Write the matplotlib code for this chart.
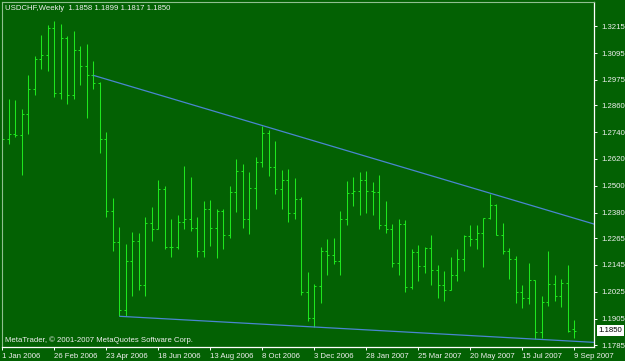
import matplotlib
matplotlib.use("Agg")
import matplotlib.pyplot as plt

# ---------------- data ----------------
symbol_title = "USDCHF,Weekly  1.1858 1.1899 1.1817 1.1850"
copyright_text = "MetaTrader, \u00a9 2001-2007 MetaQuotes Software Corp."

opens = [1.2815, 1.2710, 1.2732, 1.2728, 1.2822, 1.2935, 1.3070, 1.3088, 1.3208, 1.2917,
         1.3163, 1.2905, 1.3107, 1.3037, 1.2998, 1.2962, 1.2710, 1.2387, 1.2248, 1.1945,
         1.2162, 1.2252, 1.2057, 1.2335, 1.2308, 1.2485, 1.2225, 1.2225, 1.2339, 1.2353,
         1.2312, 1.2207, 1.2395, 1.2312, 1.2387, 1.2279, 1.2473, 1.2567, 1.2353, 1.2492,
         1.2608, 1.2735, 1.2585, 1.2485, 1.2527, 1.2380, 1.2440, 1.2026, 1.1906, 1.2050,
         1.2206, 1.2188, 1.2162, 1.2353, 1.2467, 1.2477, 1.2527, 1.2477, 1.2470, 1.2323,
         1.2305, 1.2152, 1.2327, 1.2047, 1.2203, 1.2140, 1.2219, 1.2122, 1.2057, 1.2035,
         1.2099, 1.2173, 1.2275, 1.2263, 1.2290, 1.2354, 1.2414, 1.2279, 1.2206, 1.2173,
         1.2026, 1.1996, 1.2077, 1.1843, 1.1978, 1.2059, 1.2008, 1.2065, 1.1858]
highs = [1.3157, 1.2887, 1.2884, 1.2845, 1.2995, 1.3082, 1.3175, 1.3220, 1.3238, 1.3227,
         1.3172, 1.3193, 1.3125, 1.3134, 1.3058, 1.2965, 1.2743, 1.2446, 1.2315, 1.2237,
         1.2293, 1.2287, 1.2360, 1.2405, 1.2527, 1.2500, 1.2353, 1.2371, 1.2590, 1.2540,
         1.2360, 1.2431, 1.2437, 1.2395, 1.2398, 1.2500, 1.2620, 1.2597, 1.2563, 1.2630,
         1.2770, 1.2750, 1.2702, 1.2570, 1.2575, 1.2534, 1.2450, 1.2113, 1.2060, 1.2225,
         1.2263, 1.2267, 1.2387, 1.2522, 1.2540, 1.2563, 1.2567, 1.2515, 1.2548, 1.2432,
         1.2327, 1.2353, 1.2347, 1.2215, 1.2233, 1.2225, 1.2278, 1.2147, 1.2117, 1.2182,
         1.2215, 1.2278, 1.2323, 1.2323, 1.2357, 1.2462, 1.2417, 1.2332, 1.2221, 1.2185,
         1.2057, 1.2155, 1.2077, 1.2005, 1.2207, 1.2102, 1.2080, 1.2147, 1.1899]
lows = [1.2668, 1.2686, 1.2717, 1.2548, 1.2732, 1.2908, 1.3025, 1.3013, 1.2897, 1.2890,
        1.2867, 1.2887, 1.2950, 1.2803, 1.2932, 1.2645, 1.2362, 1.2206, 1.1915, 1.1915,
        1.2008, 1.2035, 1.2008, 1.2252, 1.2305, 1.2215, 1.2182, 1.2215, 1.2305, 1.2297,
        1.2182, 1.2182, 1.2230, 1.2176, 1.2218, 1.2266, 1.2383, 1.2309, 1.2285, 1.2398,
        1.2582, 1.2542, 1.2462, 1.2395, 1.2338, 1.2353, 1.2012, 1.1892, 1.1867, 1.1975,
        1.2102, 1.2150, 1.2101, 1.2323, 1.2410, 1.2368, 1.2377, 1.2369, 1.2308, 1.2287,
        1.2137, 1.2098, 1.2023, 1.2038, 1.2072, 1.2110, 1.2057, 1.1997, 1.1982, 1.2032,
        1.2072, 1.2120, 1.2230, 1.2215, 1.2137, 1.2350, 1.2278, 1.2192, 1.2083, 1.1975,
        1.1952, 1.1972, 1.1813, 1.1817, 1.1963, 1.1982, 1.1957, 1.1843, 1.1817]
closes = [1.2710, 1.2732, 1.2728, 1.2822, 1.2935, 1.3070, 1.3088, 1.3208, 1.2917, 1.3163,
          1.2905, 1.3107, 1.3037, 1.2998, 1.2962, 1.2710, 1.2387, 1.2248, 1.1945, 1.2162,
          1.2252, 1.2057, 1.2335, 1.2308, 1.2485, 1.2225, 1.2225, 1.2339, 1.2353, 1.2312,
          1.2207, 1.2395, 1.2312, 1.2387, 1.2279, 1.2473, 1.2567, 1.2353, 1.2492, 1.2608,
          1.2735, 1.2585, 1.2485, 1.2527, 1.2380, 1.2440, 1.2026, 1.1906, 1.2050, 1.2206,
          1.2188, 1.2162, 1.2353, 1.2467, 1.2477, 1.2527, 1.2477, 1.2470, 1.2323, 1.2305,
          1.2152, 1.2327, 1.2047, 1.2203, 1.2140, 1.2219, 1.2122, 1.2057, 1.2035, 1.2099,
          1.2173, 1.2275, 1.2263, 1.2290, 1.2354, 1.2414, 1.2279, 1.2206, 1.2173, 1.2026,
          1.1996, 1.2077, 1.1843, 1.1978, 1.2059, 1.2008, 1.2065, 1.1847, 1.1850]

x_tick_labels = ["1 Jan 2006", "26 Feb 2006", "23 Apr 2006", "18 Jun 2006", "13 Aug 2006",
                 "8 Oct 2006", "3 Dec 2006", "28 Jan 2007", "25 Mar 2007", "20 May 2007",
                 "15 Jul 2007", "9 Sep 2007"]
weeks_per_label = 8

y_tick_values = [1.3215, 1.3095, 1.2975, 1.2860, 1.2740, 1.2620, 1.2500, 1.2380,
                 1.2265, 1.2145, 1.2025, 1.1905, 1.1785]
y_tick_labels = ["%.4f" % v for v in y_tick_values]

# trend lines: (bar index, price) anchors, drawn as rays to the right
upper_trend = [(14, 1.2995), (40, 1.2770)]
lower_trend = [(18, 1.1915), (48, 1.1867)]
last_price = 1.1850

# ---------------- style ----------------
BG = "#036103"
BAR = "#1ee61e"
TREND = "#4a86d0"
TXT = "#f0f0f0"

W, H = 625, 361
fig = plt.figure(figsize=(W / 100, H / 100), dpi=100)
fig.patch.set_facecolor(BG)
ax_left, ax_right, ax_top, ax_bottom = 2.0, 594.3, 1.7, 347.3
ax = fig.add_axes([ax_left / W, 1 - ax_bottom / H, (ax_right - ax_left) / W, (ax_bottom - ax_top) / H])
ax.set_facecolor(BG)

n = len(closes)
xs = list(range(n))
px_per_bar = 6.5
xmin = -(2.3 - ax_left) / px_per_bar
xmax = (ax_right - 2.3) / px_per_bar
ax.set_xlim(xmin, xmax)
ax.set_ylim(1.1776, 1.3325)

lw = 0.75
tick_len = 0.32
ax.vlines(xs, lows, highs, color=BAR, lw=lw)
ax.hlines(opens, [x - tick_len for x in xs], xs, color=BAR, lw=lw)
ax.hlines(closes, xs, [x + tick_len for x in xs], color=BAR, lw=lw)

for (x0, y0), (x1, y1) in (upper_trend, lower_trend):
    slope = (y1 - y0) / (x1 - x0)
    ax.plot([x0, xmax + 1], [y0, y0 + slope * (xmax + 1 - x0)], color=TREND, lw=0.9,
            solid_capstyle="butt")

# axes / spines
for s in ("top", "left"):
    ax.spines[s].set_color("#8fbf8f")
    ax.spines[s].set_linewidth(0.8)
for s in ("right", "bottom"):
    ax.spines[s].set_color("#ffffff")
    ax.spines[s].set_linewidth(0.9)

ax.yaxis.tick_right()
ax.set_yticks(y_tick_values)
ax.set_yticklabels(y_tick_labels)
ax.tick_params(axis="y", direction="out", length=2.5, width=0.7, colors="#ffffff",
               labelsize=5.6, pad=2.5, labelcolor=TXT)
ax.tick_params(axis="y", which="both", left=False)

x_tick_pos = [i * weeks_per_label for i in range(len(x_tick_labels))]
ax.set_xticks(x_tick_pos)
ax.set_xticklabels(x_tick_labels, ha="left")
ax.tick_params(axis="x", direction="out", length=2.5, width=0.7, colors="#ffffff",
               labelsize=5.6, pad=1.5, labelcolor=TXT)
for lab in ax.get_xticklabels():
    lab.set_fontfamily("Liberation Sans")
for lab in ax.get_yticklabels():
    lab.set_fontfamily("Liberation Sans")

# texts
ax.text(3.0 / (ax_right - ax_left), 1 - (8.3 - ax_top) / (ax_bottom - ax_top), symbol_title,
        transform=ax.transAxes, ha="left", va="center", color=TXT, fontsize=5.6,
        family="Liberation Sans")
ax.text(3.0 / (ax_right - ax_left), 1 - (340.0 - ax_top) / (ax_bottom - ax_top), copyright_text,
        transform=ax.transAxes, ha="left", va="center", color=TXT, fontsize=5.6,
        family="Liberation Sans")

ax.annotate("%.4f" % last_price, xy=(1, last_price), xycoords=("axes fraction", "data"),
            xytext=(4.5, 0), textcoords="offset pixels", ha="left", va="center",
            fontsize=5.6, family="Liberation Sans", color="black",
            bbox=dict(boxstyle="square,pad=0.25", fc="white", ec="none"),
            annotation_clip=False)

fig.savefig("out.png", dpi=100, facecolor=BG)
